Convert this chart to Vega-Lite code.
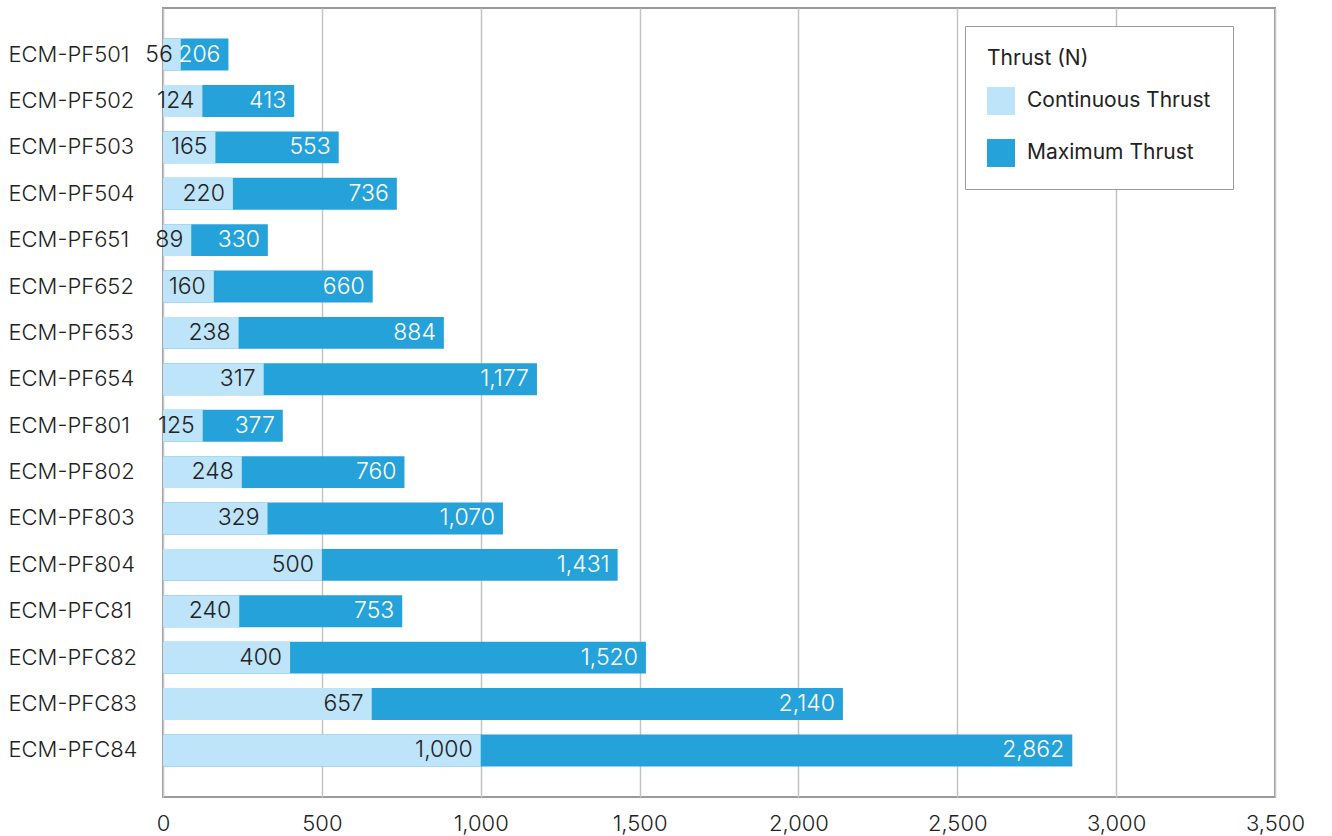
{
  "$schema": "https://vega.github.io/schema/vega-lite/v6.json",
  "autosize": {"type": "none"},
  "width": 1112,
  "height": 789,
  "padding": {"left": 163, "top": 8, "right": 57, "bottom": 39},
  "background": "white",
  "config": {
    "font": "Inter",
    "view": {"stroke": "#9a9a9a", "strokeWidth": 2},
    "axis": {"labelFont": "Inter", "labelColor": "#222222", "labelFontSize": 22, "labelFontWeight": 300}
  },
  "data": {
    "values": [
      {"model": "ECM-PF501", "Continuous Thrust": 56, "Maximum Thrust": 206},
      {"model": "ECM-PF502", "Continuous Thrust": 124, "Maximum Thrust": 413},
      {"model": "ECM-PF503", "Continuous Thrust": 165, "Maximum Thrust": 553},
      {"model": "ECM-PF504", "Continuous Thrust": 220, "Maximum Thrust": 736},
      {"model": "ECM-PF651", "Continuous Thrust": 89, "Maximum Thrust": 330},
      {"model": "ECM-PF652", "Continuous Thrust": 160, "Maximum Thrust": 660},
      {"model": "ECM-PF653", "Continuous Thrust": 238, "Maximum Thrust": 884},
      {"model": "ECM-PF654", "Continuous Thrust": 317, "Maximum Thrust": 1177},
      {"model": "ECM-PF801", "Continuous Thrust": 125, "Maximum Thrust": 377},
      {"model": "ECM-PF802", "Continuous Thrust": 248, "Maximum Thrust": 760},
      {"model": "ECM-PF803", "Continuous Thrust": 329, "Maximum Thrust": 1070},
      {"model": "ECM-PF804", "Continuous Thrust": 500, "Maximum Thrust": 1431},
      {"model": "ECM-PFC81", "Continuous Thrust": 240, "Maximum Thrust": 753},
      {"model": "ECM-PFC82", "Continuous Thrust": 400, "Maximum Thrust": 1520},
      {"model": "ECM-PFC83", "Continuous Thrust": 657, "Maximum Thrust": 2140},
      {"model": "ECM-PFC84", "Continuous Thrust": 1000, "Maximum Thrust": 2862}
    ]
  },
  "transform": [
    {"fold": ["Maximum Thrust", "Continuous Thrust"], "as": ["series", "value"]}
  ],
  "encoding": {
    "y": {
      "field": "model", "type": "nominal", "sort": null,
      "scale": {"paddingInner": 0.313, "paddingOuter": 0.66},
      "axis": {"title": null, "domain": false, "ticks": false, "labelAlign": "left", "labelPadding": 155, "labelFontSize": 22}
    },
    "x": {
      "field": "value", "type": "quantitative", "stack": null,
      "scale": {"domain": [0, 3500], "nice": false},
      "axis": {"title": null, "values": [0, 500, 1000, 1500, 2000, 2500, 3000, 3500], "format": ",.0f", "domain": false, "ticks": false, "labelPadding": 16, "gridColor": "#c4c4c4", "gridWidth": 1.5, "labelFlush": false}
    }
  },
  "layer": [
    {
      "mark": {"type": "bar"},
      "encoding": {
        "color": {
          "field": "series", "type": "nominal",
          "scale": {"domain": ["Continuous Thrust", "Maximum Thrust"], "range": ["#BDE4F8", "#25A2DA"]},
          "legend": {
            "title": "Thrust (N)", "orient": "none", "legendX": 802, "legendY": 18,
            "fillColor": "white", "strokeColor": "#9a9a9a", "padding": 22,
            "titleFontSize": 21, "titleFontWeight": 400, "titleFont": "Inter", "titleColor": "#222222", "titlePadding": 18,
            "labelFontSize": 21, "labelFont": "Inter", "labelColor": "#222222", "labelOffset": 12, "labelLimit": 400,
            "symbolType": "square", "symbolSize": 784, "symbolStrokeWidth": 0, "symbolOpacity": 1, "rowPadding": 24
          }
        }
      }
    },
    {
      "mark": {"type": "text", "align": "right", "baseline": "middle", "dx": -8, "fontSize": 23, "fontWeight": 300, "font": "Inter"},
      "encoding": {
        "text": {"field": "value", "type": "quantitative", "format": ","},
        "color": {
          "condition": {"test": "datum.series === 'Maximum Thrust'", "value": "white"},
          "value": "#222222"
        }
      }
    }
  ]
}
